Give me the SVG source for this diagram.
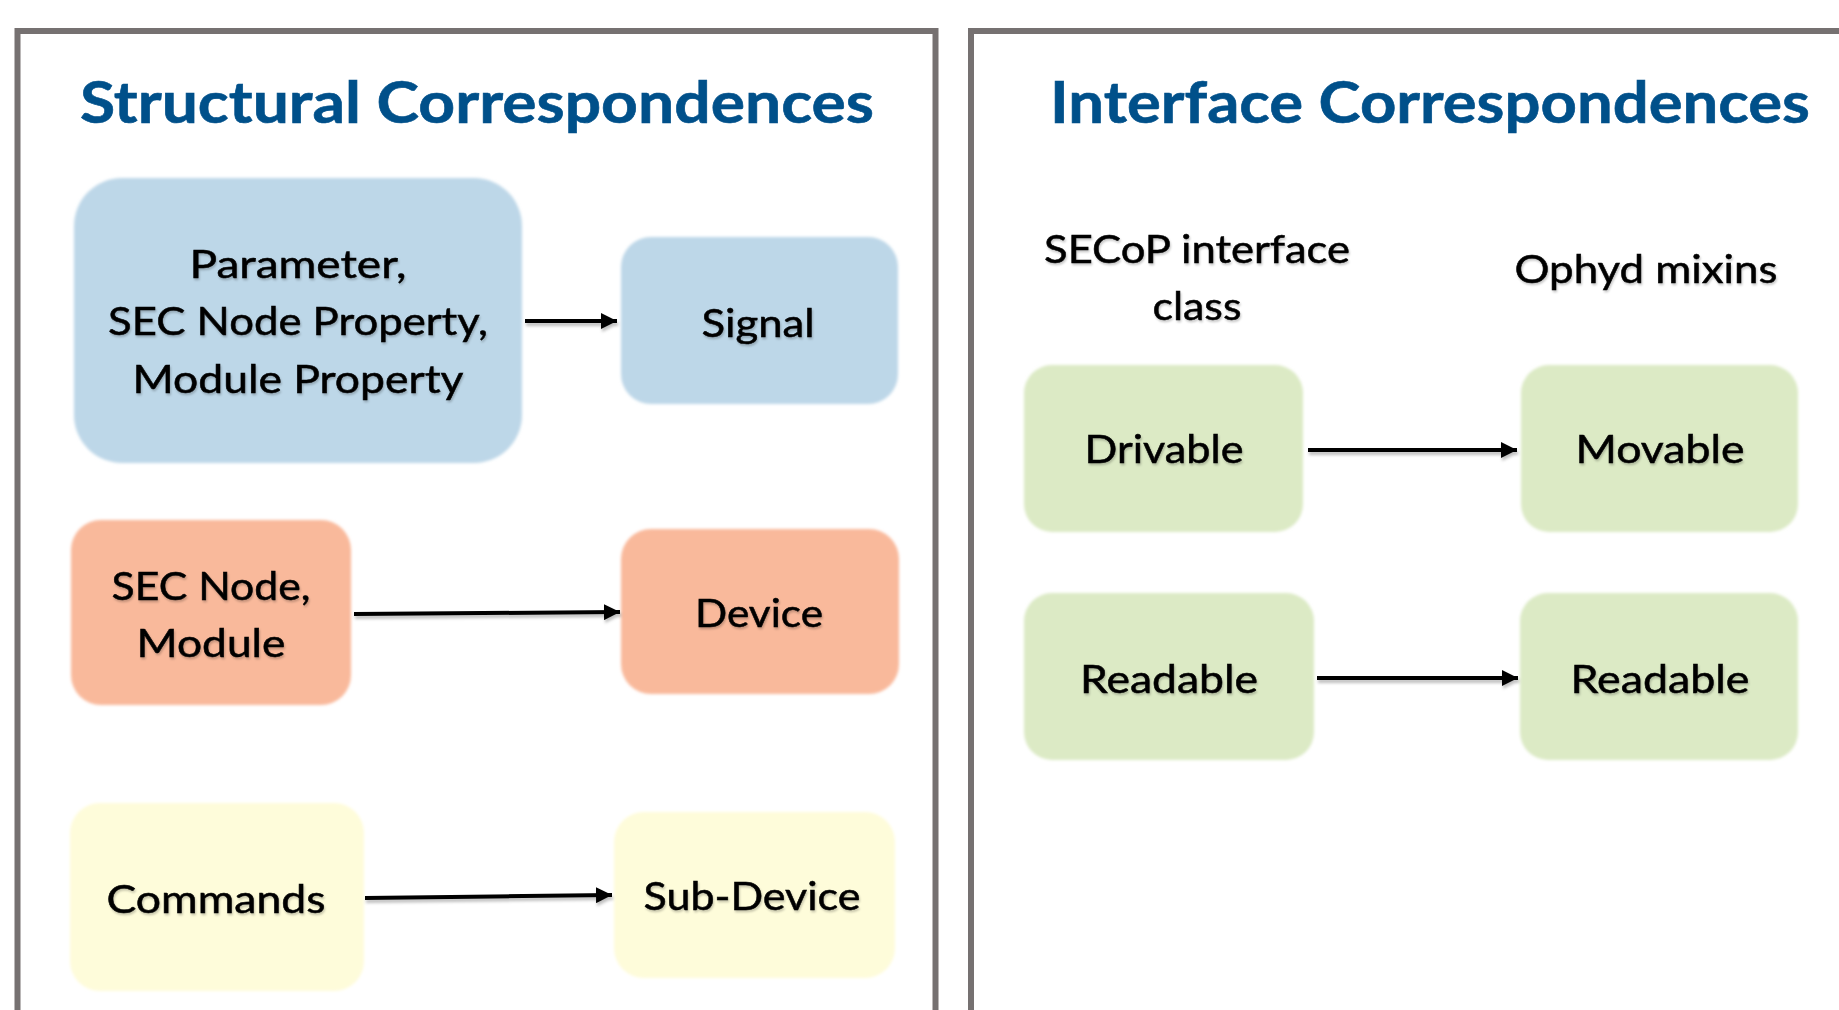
<svg xmlns="http://www.w3.org/2000/svg" width="1839" height="1010" viewBox="0 0 1839 1010">
<defs>
<style>
.panel{fill:#ffffff;stroke:#767171;stroke-width:6}
.title{font-family:Lato,"Liberation Sans",sans-serif;font-weight:700;font-size:57px;fill:#00508A;stroke:#00508A;stroke-width:0.6;text-anchor:start}
.lbl{font-family:Lato,"Liberation Sans",sans-serif;font-size:38px;fill:#000000;stroke:#000000;stroke-width:0.5;text-anchor:middle}
.hdr{font-family:Lato,"Liberation Sans",sans-serif;font-size:38px;fill:#000000;stroke:#000000;stroke-width:0.5;text-anchor:middle}
.blue{fill:#BDD7E8}
.orange{fill:#F9B99B}
.yellow{fill:#FEFCDA}
.green{fill:#DCEAC5}
.box{filter:url(#soft)}
.conn{stroke:#000000;stroke-width:4;fill:none;marker-end:url(#ah)}
.ts{filter:url(#tsh)}
</style>
<filter id="soft" x="-5%" y="-5%" width="110%" height="110%">
<feGaussianBlur stdDeviation="1.6"/>
</filter>
<filter id="sh" filterUnits="userSpaceOnUse" x="0" y="0" width="1839" height="1010">
<feDropShadow dx="1" dy="3" stdDeviation="1.5" flood-color="#000" flood-opacity="0.25"/>
</filter>
<filter id="tsh" x="-5%" y="-20%" width="110%" height="140%">
<feDropShadow dx="1" dy="2" stdDeviation="1" flood-color="#000" flood-opacity="0.22"/>
</filter>
<marker id="ah" markerUnits="userSpaceOnUse" markerWidth="18" markerHeight="16" refX="16" refY="8" orient="auto">
<path d="M0,0 L16,8 L0,16 Z" fill="#000000"/>
</marker>
</defs>
<rect width="1839" height="1010" fill="#ffffff"/>
<g id="panel-structural">
<rect class="panel" x="17.5" y="31" width="918" height="1000"/>
<text class="title" x="80" y="123" textLength="794" lengthAdjust="spacingAndGlyphs">Structural Correspondences</text>
</g>
<g id="panel-interface">
<rect class="panel" x="971" y="31" width="900" height="1000"/>
<text class="title" x="1050" y="123" textLength="760" lengthAdjust="spacingAndGlyphs">Interface Correspondences</text>
<text class="hdr ts" x="1197" y="263" textLength="306" lengthAdjust="spacingAndGlyphs">SECoP interface</text>
<text class="hdr ts" x="1197" y="320" textLength="89" lengthAdjust="spacingAndGlyphs">class</text>
<text class="hdr ts" x="1646" y="283" textLength="263" lengthAdjust="spacingAndGlyphs">Ophyd mixins</text>
</g>
<g id="node-parameter">
<rect class="box blue" x="74" y="178" width="448" height="285" rx="48"/>
<text class="lbl ts" x="298" y="278" textLength="217" lengthAdjust="spacingAndGlyphs">Parameter,</text>
<text class="lbl ts" x="298" y="335" textLength="380" lengthAdjust="spacingAndGlyphs">SEC Node Property,</text>
<text class="lbl ts" x="298" y="393" textLength="331" lengthAdjust="spacingAndGlyphs">Module Property</text>
</g>
<g id="node-signal">
<rect class="box blue" x="621" y="237" width="277" height="167" rx="30"/>
<text class="lbl ts" x="758" y="337" textLength="113" lengthAdjust="spacingAndGlyphs">Signal</text>
</g>
<g id="node-secnode">
<rect class="box orange" x="71" y="520" width="280" height="185" rx="30"/>
<text class="lbl ts" x="211" y="600" textLength="199" lengthAdjust="spacingAndGlyphs">SEC Node,</text>
<text class="lbl ts" x="211" y="657" textLength="149" lengthAdjust="spacingAndGlyphs">Module</text>
</g>
<g id="node-device">
<rect class="box orange" x="621" y="529" width="278" height="165" rx="30"/>
<text class="lbl ts" x="759" y="627" textLength="128" lengthAdjust="spacingAndGlyphs">Device</text>
</g>
<g id="node-commands">
<rect class="box yellow" x="70" y="803" width="294" height="188" rx="30"/>
<text class="lbl ts" x="216" y="913" textLength="219" lengthAdjust="spacingAndGlyphs">Commands</text>
</g>
<g id="node-subdevice">
<rect class="box yellow" x="614" y="812" width="281" height="166" rx="30"/>
<text class="lbl ts" x="752" y="910" textLength="217" lengthAdjust="spacingAndGlyphs">Sub-Device</text>
</g>
<g id="node-drivable">
<rect class="box green" x="1024" y="365" width="279" height="167" rx="28"/>
<text class="lbl ts" x="1164" y="463" textLength="159" lengthAdjust="spacingAndGlyphs">Drivable</text>
</g>
<g id="node-movable">
<rect class="box green" x="1521" y="365" width="277" height="167" rx="28"/>
<text class="lbl ts" x="1660" y="463" textLength="169" lengthAdjust="spacingAndGlyphs">Movable</text>
</g>
<g id="node-readable-secop">
<rect class="box green" x="1024" y="593" width="290" height="167" rx="28"/>
<text class="lbl ts" x="1169" y="693" textLength="178" lengthAdjust="spacingAndGlyphs">Readable</text>
</g>
<g id="node-readable-ophyd">
<rect class="box green" x="1520" y="593" width="278" height="167" rx="28"/>
<text class="lbl ts" x="1660" y="693" textLength="179" lengthAdjust="spacingAndGlyphs">Readable</text>
</g>
<g id="connectors" filter="url(#sh)">
<path class="conn" d="M525,321 L617,321"/>
<path class="conn" d="M354,614 L620,612"/>
<path class="conn" d="M365,898 L612,895"/>
<path class="conn" d="M1308,450 L1517,450"/>
<path class="conn" d="M1317,678 L1518,678"/>
</g>
</svg>
